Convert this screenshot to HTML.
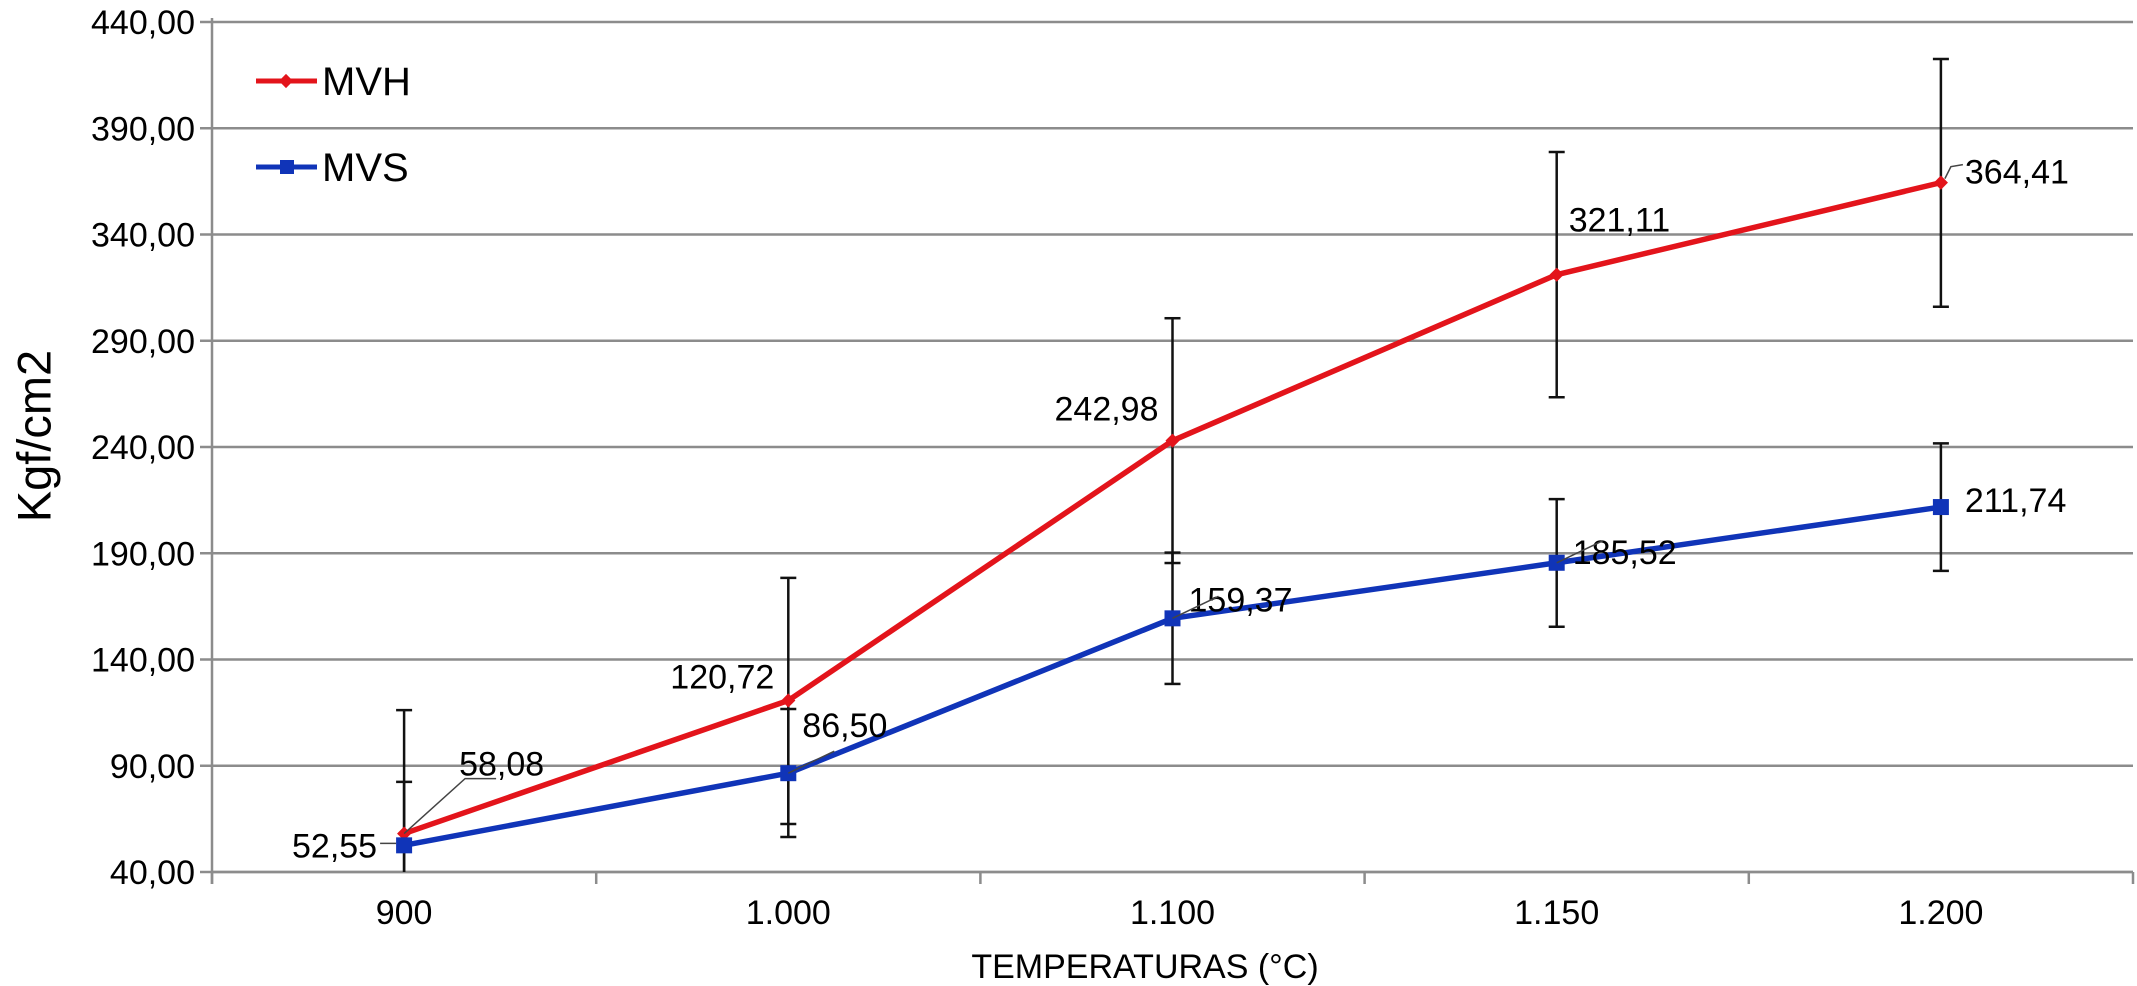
<!DOCTYPE html>
<html><head><meta charset="utf-8"><style>
html,body{margin:0;padding:0;background:#fff;}
svg{display:block;font-family:"Liberation Sans",Arial,sans-serif;}
</style></head><body>
<svg id="chart" width="2137" height="986" viewBox="0 0 2137 986" xmlns="http://www.w3.org/2000/svg">
<g id="grid"></g>
<g id="yticks"></g>
<g id="xticks"></g>
<g id="errs"></g>
<g id="series"></g>
<g id="labels"></g>
<text x="38" y="436" font-size="47" text-anchor="middle" dominant-baseline="middle" transform="rotate(-90 38 436)">Kgf/cm2</text>
<text x="1145" y="978" font-size="34" text-anchor="middle">TEMPERATURAS (°C)</text>
<g>
 <g>
  <line x1="256" y1="81" x2="317" y2="81" stroke="#e3141b" stroke-width="5"/>
  <rect x="281" y="76" width="10" height="10" fill="#e3141b" transform="rotate(45 286 81)"/>
  <text x="322" y="95" font-size="40">MVH</text>
 </g>
 <g>
  <line x1="256" y1="167" x2="317" y2="167" stroke="#1034b8" stroke-width="5"/>
  <rect x="280" y="160" width="14" height="14" fill="#1034b8"/>
  <text x="322" y="181" font-size="40">MVS</text>
 </g>
</g>
</svg>
<script>
const categories = ["900","1.000","1.100","1.150","1.200"];
const mvhValues = [58.08,120.72,242.98,321.11,364.41];
const mvsValues = [52.55,86.50,159.37,185.52,211.74];
const mvhUpper = [116.2,178.4,300.6,378.8,422.6];
const mvhLower = [0,62.6,185.4,263.4,306.0];
const mvsUpper = [82.4,116.7,190.3,215.5,241.7];
const mvsLower = [22.7,56.5,128.5,155.4,181.7];
const mvhLabels = ["58,08","120,72","242,98","321,11","364,41"];
const mvsLabels = ["52,55","86,50","159,37","185,52","211,74"];
const yTicks = [40,90,140,190,240,290,340,390,440];
const yTickLabels = ["40,00","90,00","140,00","190,00","240,00","290,00","340,00","390,00","440,00"];

const NS="http://www.w3.org/2000/svg";
const L=212,R=2133,T=22,B=872,YMIN=40,YMAX=440;
const band=(R-L)/categories.length;
function xs(i){return L+band*(i+0.5);}
function ys(v){return B-(Math.max(YMIN,Math.min(YMAX,v))-YMIN)/(YMAX-YMIN)*(B-T);}
function mk(tag,attrs,parent){const e=document.createElementNS(NS,tag);for(const k in attrs)e.setAttribute(k,attrs[k]);parent.appendChild(e);return e;}
const grid=document.getElementById('grid'),yt=document.getElementById('yticks'),xt=document.getElementById('xticks');
yTicks.forEach((v,i)=>{
  const y=ys(v);
  const g=mk('line',{x1:200,y1:y,x2:R,y2:y,stroke:'#8c8c8c','stroke-width':2.5},grid);
  
  
  const t=mk('text',{x:195,y:y+12,'font-size':34,'text-anchor':'end'},yt);
  t.textContent=yTickLabels[i];
  
  
});
mk('line',{x1:L,y1:T-4,x2:L,y2:B+12,stroke:'#8c8c8c','stroke-width':2.5},xt);
mk('line',{x1:L,y1:B,x2:R,y2:B,stroke:'#8c8c8c','stroke-width':2.5},xt);
for(let i=0;i<=categories.length;i++){mk('line',{x1:L+band*i,y1:B,x2:L+band*i,y2:B+12,stroke:'#8c8c8c','stroke-width':2.5},xt);}
categories.forEach((c,i)=>{
  const t=mk('text',{x:xs(i),y:924,'font-size':34,'text-anchor':'middle'},xt);
  t.textContent=c;
  
  
});
const errs=document.getElementById('errs');
function errbar(i,lo,hi,name){
  const x=xs(i),g=mk('g',{stroke:'#111','stroke-width':2.5},errs);
  
  
  mk('line',{x1:x,y1:ys(hi),x2:x,y2:ys(lo)},g);
  if(hi<=YMAX)mk('line',{x1:x-8,y1:ys(hi),x2:x+8,y2:ys(hi)},g);
  if(lo>=YMIN)mk('line',{x1:x-8,y1:ys(lo),x2:x+8,y2:ys(lo)},g);
}
categories.forEach((c,i)=>{errbar(i,mvhLower[i],mvhUpper[i],'mvh-error-bar');errbar(i,mvsLower[i],mvsUpper[i],'mvs-error-bar');});
const ser=document.getElementById('series');
function line(vals,color,name,marker){
  const p=mk('polyline',{points:vals.map((v,i)=>xs(i)+','+ys(v)).join(' '),fill:'none',stroke:color,'stroke-width':5.5,'stroke-linejoin':'round'},ser);
  
  
  vals.forEach((v,i)=>{
    let m;
    if(marker==='sq')m=mk('rect',{x:xs(i)-8,y:ys(v)-8,width:16,height:16,fill:color},ser);
    else m=mk('rect',{x:xs(i)-5,y:ys(v)-5,width:10,height:10,fill:color,transform:`rotate(45 ${xs(i)} ${ys(v)})`},ser);
    
    
  });
}
line(mvhValues,'#e3141b','mvh-line','dia');
line(mvsValues,'#1034b8','mvs-line','sq');
const lab=document.getElementById('labels');
const mvhOff=[[55,-70,'start'],[-14,-24,'end'],[-14,-32,'end'],[12,-55,'start'],[24,-11,'start']];
const mvsOff=[[-27,0,'end'],[14,-48,'start'],[16,-19,'start'],[16,-11,'start'],[24,-7,'start']];
function labels(vals,texts,off,name){
  vals.forEach((v,i)=>{
    const t=mk('text',{x:xs(i)+off[i][0],y:ys(v)+off[i][1]+12,'font-size':34,'text-anchor':off[i][2]},lab);
    t.textContent=texts[i];
    
    
  });
}
labels(mvhValues,mvhLabels,mvhOff,'mvh-data-label');
labels(mvsValues,mvsLabels,mvsOff,'mvs-data-label');
mk('path',{d:`M${xs(0)} ${ys(mvhValues[0])} L${xs(0)+61} ${ys(mvhValues[0])-55} L${xs(0)+92} ${ys(mvhValues[0])-55}`,fill:'none',stroke:'#444','stroke-width':1.5},lab);
mk('line',{x1:xs(0)-24,y1:ys(mvsValues[0])-2,x2:xs(0)-8,y2:ys(mvsValues[0])-2,stroke:'#444','stroke-width':1.5},lab);
mk('path',{d:`M${xs(4)+4} ${ys(mvhValues[4])-4} L${xs(4)+10} ${ys(mvhValues[4])-16} L${xs(4)+22} ${ys(mvhValues[4])-18}`,fill:'none',stroke:'#444','stroke-width':1.5},lab);
[1,2,3].forEach(i=>{mk('line',{x1:xs(i),y1:ys(mvsValues[i]),x2:xs(i)+46,y2:ys(mvsValues[i])-22,stroke:'#444','stroke-width':1.5},lab);});
</script>
</body></html>
